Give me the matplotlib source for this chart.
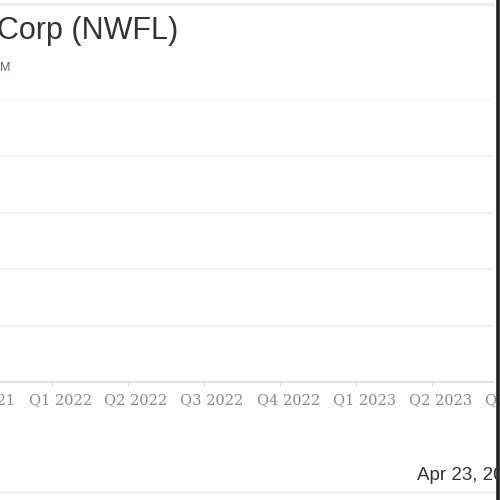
import numpy as np
import matplotlib.pyplot as plt
from matplotlib.transforms import ScaledTranslation

plt.rcParams['font.family'] = ['Liberation Sans', 'DejaVu Sans']

# quarters shown on the x axis (index 0 = Q4 2021)
quarters = ['Q4 2021', 'Q1 2022', 'Q2 2022', 'Q3 2022', 'Q4 2022',
            'Q1 2023', 'Q2 2023', 'Q3 2023']
quarter_pos = np.arange(len(quarters))
y_grid = [0, 1, 2, 3, 4, 5]

title = 'Corp (NWFL)'
subtitle = 'M'
date_text = 'Apr 23, 2024'

fig = plt.figure(figsize=(5, 5), dpi=100)
fig.patch.set_facecolor('white')

ax = fig.add_axes([0, 118 / 500, 493 / 500, 282 / 500])

ax.set_yticks(y_grid)
ax.set_yticklabels([])
ax.tick_params(axis='y', length=0)
ax.grid(axis='y', color='#f1f2f6', linewidth=1.6)
ax.set_axisbelow(True)

tick_font = dict(fontsize=10.5, color='#888888', fontfamily=['DejaVu Serif', 'Liberation Serif'])

ax.set_xticks(quarter_pos)
ax.set_xticklabels(quarters, **tick_font)
ax.tick_params(axis='x', length=3, color='#d5ddf0', pad=5)
shift = ScaledTranslation(8 / 100, 0, fig.dpi_scale_trans)
for lab in ax.get_xticklabels():
    lab.set_transform(lab.get_transform() + shift)

ax.set_xlim(0.316, 6.80)
ax.set_ylim(0, 5)

# quarters that fall just outside the visible range are still partly shown
for pos, q in zip(quarter_pos, quarters):
    if pos < 0.316 or pos > 6.80:
        ax.annotate(q, xy=(pos, 0), xycoords=('data', 'axes fraction'),
                    xytext=(8 * 0.72, -8), textcoords='offset points',
                    ha='center', va='top', annotation_clip=False, **tick_font)

for side in ['top', 'right', 'left']:
    ax.spines[side].set_visible(False)
ax.spines['bottom'].set_color('#d8def0')
ax.spines['bottom'].set_linewidth(1.2)

# header separator and frame lines
fig.add_artist(plt.Line2D([0, 493 / 500], [1 - 4 / 500, 1 - 4 / 500], color='#eceef2', linewidth=2))
fig.add_artist(plt.Line2D([0, 497 / 500], [1 - 492 / 500, 1 - 492 / 500], color='#e6e6e6', linewidth=1))

fig.text(-3 / 500, 1 - 31 / 500, title, fontsize=22, color='#333333', va='center', ha='left')
fig.text(0, 1 - 68 / 500, subtitle, fontsize=9, color='#55608a', va='center', ha='left')
fig.text(417 / 500, 1 - 476 / 500, date_text, fontsize=13.5, color='#333333', va='center', ha='left')

fig.add_artist(plt.Line2D([498 / 500, 498 / 500], [0, 1], color='#222222', linewidth=2.6))

plt.savefig('out.png', dpi=100)
